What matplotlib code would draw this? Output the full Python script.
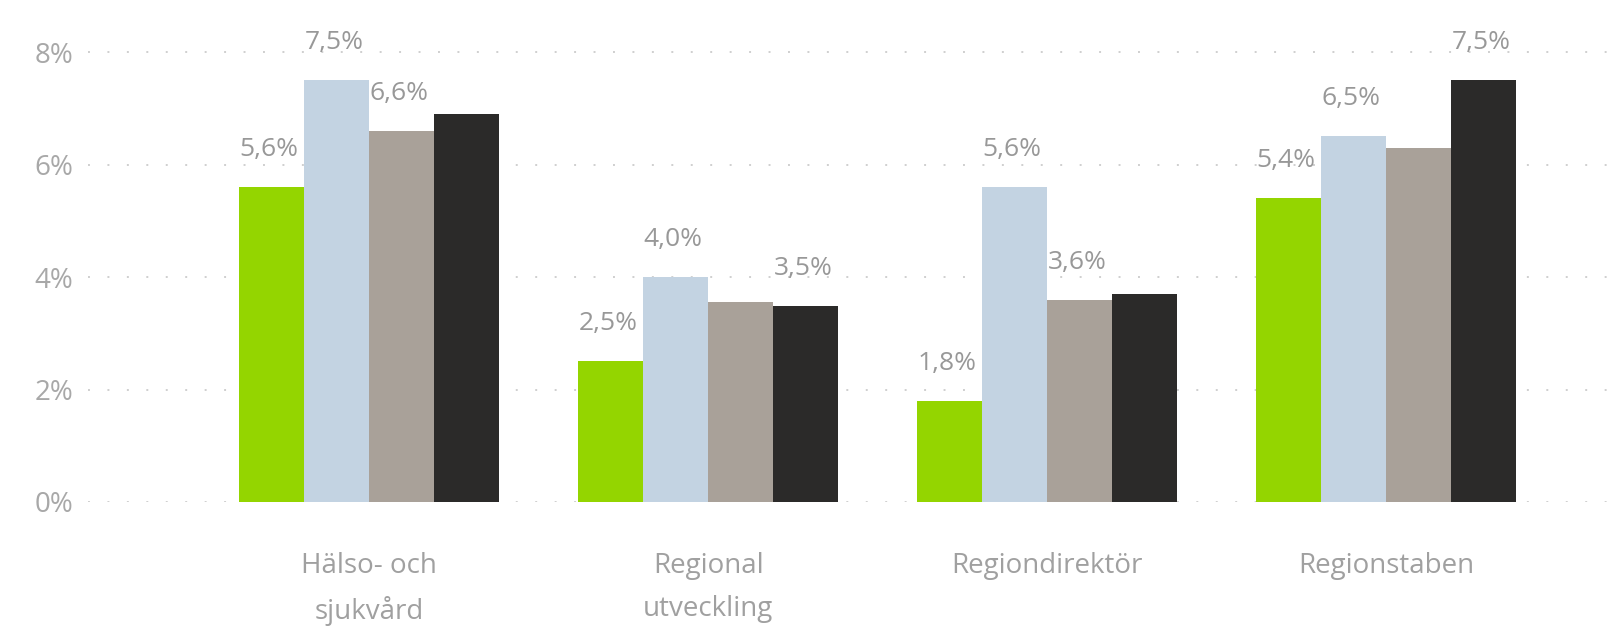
import numpy as np
import matplotlib
matplotlib.use("Agg")
import matplotlib.pyplot as plt

categories = ["Hälso- och\nsjukvård", "Regional\nutveckling", "Regiondirektör", "Regionstaben"]
series_a = [5.6, 2.5, 1.8, 5.4]   # green
series_b = [7.5, 4.0, 5.6, 6.5]   # light blue
series_c = [6.6, 3.55, 3.6, 6.3]  # grey
series_d = [6.9, 3.48, 3.7, 7.5]  # black
# which bars carry a visible data label in the original
show_a = [True, True, True, True]
show_b = [True, True, True, True]
show_c = [True, False, True, False]
show_d = [False, True, False, True]
yticks = [0, 2, 4, 6, 8]

colors = ["#94D500", "#C3D3E2", "#A9A199", "#2B2A29"]
plt.rcParams['font.family'] = ['Open Sans', 'DejaVu Sans']

fig = plt.figure(figsize=(16.07, 6.39), dpi=100)
ax = fig.add_axes([0.055, 0.2144, 0.945, 0.7746])

x = np.arange(len(categories))
w = 0.192
all_series = [series_a, series_b, series_c, series_d]
all_show = [show_a, show_b, show_c, show_d]
for i, (vals, shows) in enumerate(zip(all_series, all_show)):
    pos = x + (i - 1.5) * w
    ax.bar(pos, vals, width=w, color=colors[i], zorder=2)
    for px, v, s in zip(pos, vals, shows):
        if s:
            ax.annotate(f"{v:.1f}%".replace(".", ","), (px, v), xytext=(-2, 27),
                        textcoords="offset points", ha="center", va="center",
                        fontsize=19, color="#989898", zorder=3)

ax.set_ylim(0, 8.8)
ax.set_xlim(-0.829, 3.652)
ax.set_yticks(yticks)
ax.set_yticklabels([f"{t}%" for t in yticks], fontsize=20, color="#A8A8A8")
ax.set_xticks(x)
ax.set_xticklabels(categories, fontsize=20, color="#A0A0A0", linespacing=1.7)
ax.tick_params(axis="both", length=0)
ax.tick_params(axis="y", pad=11)
ax.tick_params(axis="x", pad=36)
for t in yticks:
    ax.axhline(t, color="#CFCFCF", linewidth=1.4, linestyle=(0, (1, 9)), zorder=1)
for sp in ax.spines.values():
    sp.set_visible(False)

fig.savefig("out.png", dpi=100)
